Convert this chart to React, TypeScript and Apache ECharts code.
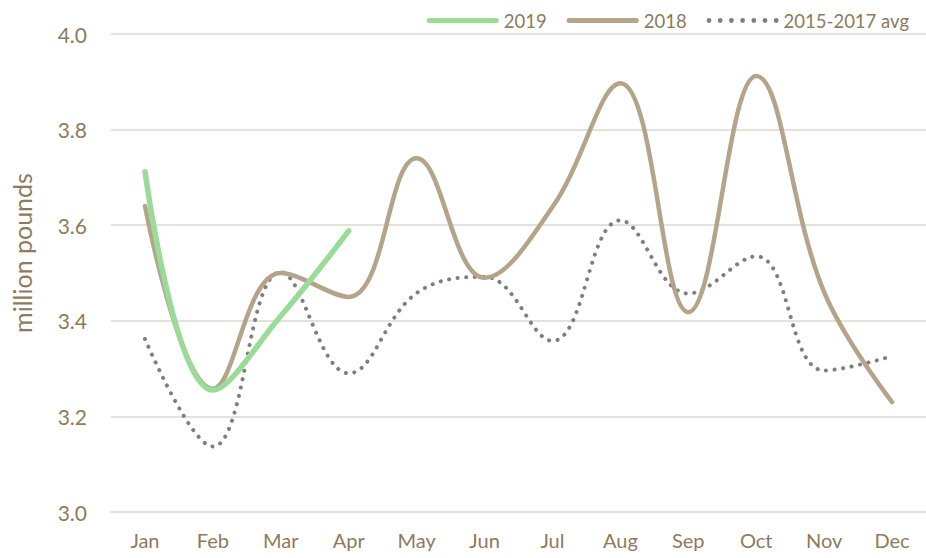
import React, { useEffect, useRef } from "react";
import * as echarts from "echarts";

const months = ["Jan", "Feb", "Mar", "Apr", "May", "Jun", "Jul", "Aug", "Sep", "Oct", "Nov", "Dec"];
const s2019 = [3.712, 3.255, 3.41, 3.588];
const s2018 = [3.64, 3.258, 3.5, 3.45, 3.74, 3.49, 3.638, 3.897, 3.418, 3.912, 3.46, 3.23];
const sAvg = [3.362, 3.137, 3.502, 3.29, 3.458, 3.492, 3.358, 3.61, 3.457, 3.535, 3.296, 3.326];
const yTicks = { min: 3.0, max: 4.0, interval: 0.2 };
const yTitle = "million pounds";

const textColor = "#8C7B5C";
const font = "Lato, 'Open Sans', sans-serif";

function dotsIcon(n: number, w: number, r: number) {
  const step = (w - 2 * r) / (n - 1);
  let d = "path://";
  for (let i = 0; i < n; i++) {
    const cx = r + i * step;
    d += `M${cx - r},${r} a${r},${r} 0 1,0 ${2 * r},0 a${r},${r} 0 1,0 ${-2 * r},0 `;
  }
  return d;
}
const lineIcon = "path://M2.5,0 H69.5 A2.5,2.5 0 0 1 69.5,5 H2.5 A2.5,2.5 0 0 1 2.5,0 Z";

export default function App() {
  const ref = useRef<HTMLDivElement>(null);
  useEffect(() => {
    if (!ref.current) return;
    const chart = echarts.init(ref.current, null, { renderer: "svg" });
    chart.setOption({
      animation: false,
      backgroundColor: "#ffffff",
      textStyle: { fontFamily: font, color: textColor },
      legend: {
        top: 6,
        right: 12,
        itemWidth: 72,
        itemHeight: 5,
        itemGap: 20,
        textStyle: { color: textColor, fontSize: 18.5, fontFamily: font },
        data: [
          { name: "2019", icon: lineIcon },
          { name: "2018", icon: lineIcon },
          { name: "2015-2017 avg", icon: dotsIcon(7, 60, 2) },
        ],
      },
      graphic: [
        {
          type: "text",
          x: 22,
          y: 253,
          rotation: Math.PI / 2,
          style: {
            text: yTitle,
            fill: textColor,
            font: `25px ${font}`,
            align: "center",
            verticalAlign: "middle",
          },
        },
      ],
      grid: { left: 111, right: -3, top: 34, bottom: 46 },
      xAxis: {
        type: "category",
        data: months,
        boundaryGap: true,
        axisLine: { show: true, lineStyle: { color: "#E6E2DA", width: 2 } },
        axisTick: { show: false },
        axisLabel: { color: textColor, fontSize: 20, fontFamily: font, margin: 18 },
        splitLine: { show: false },
      },
      yAxis: {
        type: "value",
        min: yTicks.min,
        max: yTicks.max,
        interval: yTicks.interval,
        axisLine: { show: false },
        axisTick: { show: false },
        axisLabel: {
          color: textColor,
          fontSize: 21,
          fontFamily: font,
          margin: 24,
          formatter: (v: number) => v.toFixed(1),
        },
        splitLine: { lineStyle: { color: "#E6E2DA", width: 2 } },
      },
      series: [
        {
          name: "2019",
          type: "line",
          data: s2019,
          smooth: 0.4,
          symbol: "none",
          lineStyle: { color: "#98DC98", width: 5.5, cap: "round" },
          itemStyle: { color: "#98DC98" },
          z: 3,
        },
        {
          name: "2018",
          type: "line",
          data: s2018,
          smooth: 0.4,
          symbol: "none",
          lineStyle: { color: "#B3A48A", width: 4.5, cap: "round" },
          itemStyle: { color: "#B3A48A" },
          z: 2,
        },
        {
          name: "2015-2017 avg",
          type: "line",
          data: sAvg,
          smooth: 0.4,
          symbol: "none",
          lineStyle: { color: "#7F7F7F", width: 4, type: [0.1, 8.5], cap: "round" },
          itemStyle: { color: "#7F7F7F" },
          z: 1,
        },
      ],
    });
    return () => chart.dispose();
  }, []);
  return <div ref={ref} style={{ width: 926, height: 558, position: "absolute", left: 0, top: 0 }} />;
}
